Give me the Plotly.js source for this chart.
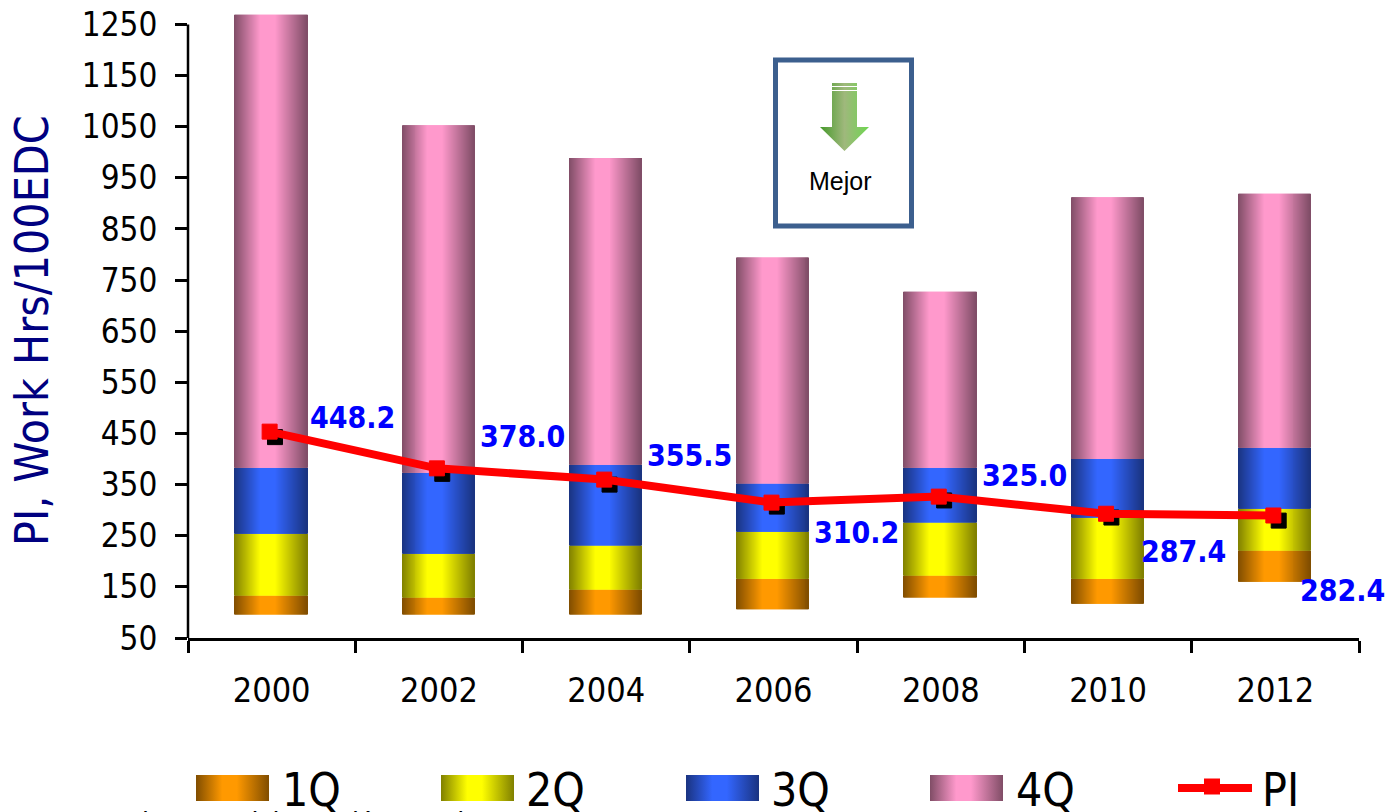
<!DOCTYPE html>
<html><head><meta charset="utf-8">
<script src="https://cdn.plot.ly/plotly-3.0.1.min.js"></script>
<style>html,body{margin:0;padding:0;background:#fff;overflow:hidden}#chart{width:1388px;height:812px}</style>
</head><body><div id="chart"></div>
<script>
// ---- data ----
var years = ['2000','2002','2004','2006','2008','2010','2012'];
var stackStart = [96,96,96,106,129,117,160];
var q1 = [37,33,49,60,43,49,61];
var q2 = [121,86,86,92,104,119,82];
var q3 = [129,158,158,94,107,115,119];
var q4 = [886,680,600,442,344,512,497];
var piLine = [453.6,381.8,359.8,314.8,326.5,293,289.6];
var piShadow = [442.9,371,350,307,319,285.6,279.6];
var piLabels = [448.2,378.0,355.5,310.2,325.0,287.4,282.4];
var yTicks = [50,150,250,350,450,550,650,750,850,950,1050,1150,1250];
var seriesNames = ['1Q','2Q','3Q','4Q'];
var seriesValues = [q1,q2,q3,q4];
var seriesColors = [[255,153,0],[255,255,0],[51,102,255],[255,153,204]];
var labelDx = [81,84,83,83,84,75,67];
var labelDy = [-14,-32,-24,30,-21,38,75];

// ---- geometry ----
var W=1388,H=812,mL=188,mR=29,mT=14,mB=174;
var plotW=W-mL-mR, plotH=H-mT-mB;
function px(x){return (x-mL)/plotW;}
function py(y){return 1-(y-mT)/plotH;}

var FONT='"DejaVu Sans Condensed","DejaVu Sans",sans-serif';
var stops=[[0,.5],[.36,1],[.56,1],[1,.5]];
function shade(c,t){
  var f=.5;
  for(var i=0;i<stops.length-1;i++){
    if(t>=stops[i][0]&&t<=stops[i+1][0]){
      f=stops[i][1]+(stops[i+1][1]-stops[i][1])*(t-stops[i][0])/(stops[i+1][0]-stops[i][0]);break;
    }
  }
  return 'rgb('+Math.round(c[0]*f)+','+Math.round(c[1]*f)+','+Math.round(c[2]*f)+')';
}

// ---- gradient-look bars made of vertical strips ----
var traces=[];
var N=73, barW=0.432, barOff=-0.5*barW-0.004;
var running=stackStart.slice();
seriesValues.forEach(function(vals,s){
  var bases=running.slice();
  for(var k=0;k<N;k++){
    traces.push({type:'bar',x:years,y:vals,base:bases,name:seriesNames[s],
      width:barW/N,offset:barOff+k*barW/N,showlegend:false,
      marker:{color:shade(seriesColors[s],(k+.5)/N),line:{width:0}},hoverinfo:'skip'});
  }
  running=running.map(function(v,i){return v+vals[i];});
});
traces.push({type:'scatter',mode:'markers',x:years,y:piShadow,xaxis:'x2',name:'PI (shadow)',showlegend:false,
  marker:{symbol:'square',size:15,color:'#000',line:{color:'#000',width:1}},hoverinfo:'skip'});
traces.push({type:'scatter',mode:'lines+markers',x:years,y:piLine,xaxis:'x3',name:'PI',showlegend:false,
  line:{color:'#ff0000',width:8},marker:{symbol:'square',size:15,color:'#ff0000',line:{color:'#ff0000',width:1}},hoverinfo:'skip'});

// ---- annotations ----
var ann=[];
piLabels.forEach(function(v,i){
  ann.push({x:i,y:piLine[i],xref:'x',yref:'y',showarrow:false,text:'<b>'+v.toFixed(1)+'</b>',
    xshift:labelDx[i],yshift:-labelDy[i],xanchor:'center',yanchor:'middle',
    font:{family:FONT,size:30,color:'#0000ff'}});
});
var legendSwatchX=[196,441,686,930], legendTextX=[280,524,769,1014];
seriesNames.forEach(function(n,i){
  ann.push({x:px(legendTextX[i]),y:py(790),xref:'paper',yref:'paper',showarrow:false,text:n,xanchor:'left',yanchor:'middle',
    font:{family:FONT,size:46,color:'#000'}});
});
ann.push({x:px(1260),y:py(790),xref:'paper',yref:'paper',showarrow:false,text:'PI',xanchor:'left',yanchor:'middle',
  font:{family:FONT,size:46,color:'#000'}});
ann.push({x:px(840),y:py(181),xref:'paper',yref:'paper',showarrow:false,text:'Mejor',xanchor:'center',yanchor:'middle',
  font:{family:'"Liberation Sans",sans-serif',size:25,color:'#000'}});
ann.push({x:px(70),y:py(822),xref:'paper',yref:'paper',showarrow:false,text:'Aprovistamos del mención para i',xanchor:'left',yanchor:'middle',
  font:{family:'"Liberation Sans",sans-serif',size:27,color:'#000'}});
ann.push({x:px(32),y:py(331),xref:'paper',yref:'paper',showarrow:false,text:'PI, Work Hrs/100EDC',textangle:-90,xanchor:'center',yanchor:'middle',
  font:{family:FONT,size:46,color:'#000080'}});

// ---- shapes and images ----
var shapes=[
  {type:'line',xref:'paper',yref:'y',x0:0,x1:0,y0:50,y1:1250,line:{color:'#000',width:2.5}},
  {type:'rect',xref:'paper',yref:'paper',x0:px(775.5),x1:px(911.5),y0:py(60),y1:py(226),line:{color:'#3c5f8e',width:5},fillcolor:'rgba(0,0,0,0)',layer:'above'},
  {type:'line',xref:'paper',yref:'paper',x0:px(1178),x1:px(1252),y0:py(788),y1:py(788),line:{color:'#ff0000',width:8},layer:'above'},
  {type:'rect',xref:'paper',yref:'paper',x0:px(1204),x1:px(1220),y0:py(778.5),y1:py(794.5),line:{width:0},fillcolor:'#ff0000',layer:'above'}
];
function gradSvg(c){
  var st=stops.map(function(s){return '<stop offset="'+s[0]+'" stop-color="'+shade(c,s[0])+'"/>';}).join('');
  return 'data:image/svg+xml;charset=utf-8,'+encodeURIComponent('<svg xmlns="http://www.w3.org/2000/svg" width="73" height="26" preserveAspectRatio="none"><defs><linearGradient id="g">'+st+'</linearGradient></defs><rect width="73" height="26" fill="url(#g)"/></svg>');
}
var images=seriesColors.map(function(c,i){
  return {source:gradSvg(c),xref:'paper',yref:'paper',x:px(legendSwatchX[i]),y:py(775),sizex:73/plotW,sizey:26/plotH,sizing:'stretch',xanchor:'left',yanchor:'top',layer:'above'};
});
var arrowSvg='<svg xmlns="http://www.w3.org/2000/svg" width="49" height="68"><defs><linearGradient id="a"><stop offset="0" stop-color="#45992a"/><stop offset=".5" stop-color="#9fb87c"/><stop offset="1" stop-color="#6ed650"/></linearGradient></defs>'+
 '<path d="M12 0H37V44H49L24.5 68L0 44H12Z" fill="url(#a)"/><rect x="12" y="3" width="25" height="1" fill="#fff"/><rect x="12" y="7" width="25" height="1" fill="#fff"/></svg>';
images.push({source:'data:image/svg+xml;charset=utf-8,'+encodeURIComponent(arrowSvg),xref:'paper',yref:'paper',x:px(820),y:py(83),sizex:49/plotW,sizey:68/plotH,sizing:'stretch',xanchor:'left',yanchor:'top',layer:'above'});

var hiddenAxis=function(range){return {type:'category',overlaying:'x',visible:false,range:range,categoryorder:'array',categoryarray:years};};
var layout={
  width:W,height:H,autosize:false,showlegend:false,barmode:'overlay',
  paper_bgcolor:'#fff',plot_bgcolor:'#fff',hovermode:false,
  margin:{l:mL,r:mR,t:mT,b:mB,pad:0},
  xaxis:{type:'category',categoryorder:'array',categoryarray:years,range:[-.5,6.5],tickson:'boundaries',ticks:'outside',ticklen:12,tickwidth:2.5,tickcolor:'#000',
    showline:true,linecolor:'#000',linewidth:2.5,showgrid:false,zeroline:false,ticklabelstandoff:20,
    tickfont:{family:FONT,size:34,color:'#000'}},
  xaxis2:hiddenAxis([-.52,6.48]),
  xaxis3:hiddenAxis([-.488,6.512]),
  yaxis:{range:[50,1270.4],tickmode:'array',tickvals:yTicks,ticktext:yTicks.map(String),ticks:'outside',ticklen:12,tickwidth:2.5,tickcolor:'#000',
    showline:false,showgrid:false,zeroline:false,ticklabelstandoff:11,
    tickfont:{family:FONT,size:33,color:'#000'}},
  annotations:ann,shapes:shapes,images:images
};
Plotly.newPlot('chart',traces,layout,{displayModeBar:false});
</script></body></html>
